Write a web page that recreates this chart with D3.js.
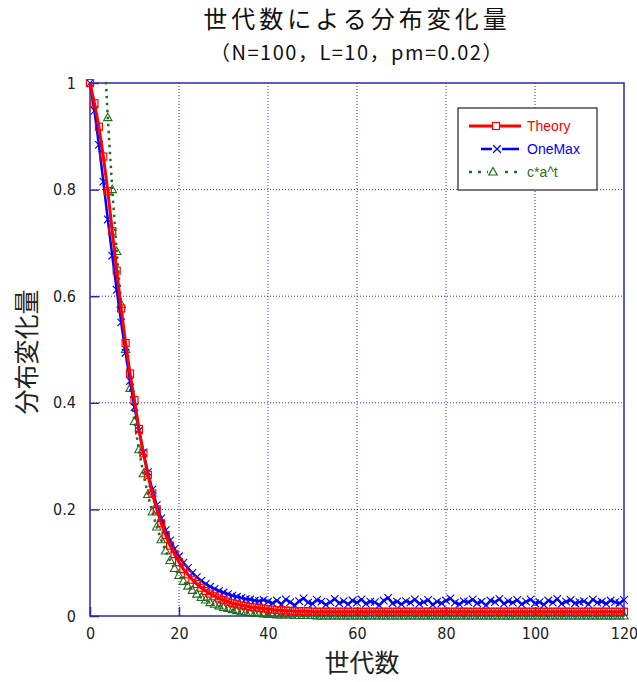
<!DOCTYPE html>
<html>
<head>
<meta charset="utf-8">
<script src="https://cdn.jsdelivr.net/npm/d3@7"></script>
<style>
  body { margin: 0; background: #fff; }
  svg { display: block; }
</style>
</head>
<body>
<script>
const width = 637
const height = 682

// generations 0..120
const generations = d3.range(0, 121)

// Theory curve, one value per generation
const theory = [
  1.000, 0.962, 0.918, 0.862, 0.797, 0.722, 0.648, 0.577, 0.512, 0.455, 0.405,
  0.351, 0.305, 0.265, 0.230, 0.200, 0.174, 0.152, 0.132, 0.116, 0.101,
  0.088, 0.078, 0.068, 0.060, 0.053, 0.047, 0.042, 0.037, 0.033, 0.030,
  0.027, 0.024, 0.022, 0.020, 0.019, 0.017, 0.016, 0.015, 0.014, 0.013,
  0.012, 0.011, 0.011, 0.010, 0.010, 0.009, 0.009, 0.009, 0.009, 0.008,
  0.008, 0.008, 0.008, 0.008, 0.008, 0.008, 0.008, 0.008, 0.008, 0.008,
  0.008, 0.008, 0.008, 0.008, 0.008, 0.008, 0.008, 0.008, 0.008, 0.008,
  0.008, 0.008, 0.008, 0.008, 0.008, 0.008, 0.008, 0.008, 0.008, 0.008,
  0.008, 0.008, 0.008, 0.008, 0.008, 0.008, 0.008, 0.008, 0.008, 0.008,
  0.008, 0.008, 0.008, 0.008, 0.008, 0.008, 0.008, 0.008, 0.008, 0.008,
  0.008, 0.008, 0.008, 0.008, 0.008, 0.008, 0.008, 0.008, 0.008, 0.008,
  0.008, 0.008, 0.008, 0.008, 0.008, 0.008, 0.008, 0.008, 0.008, 0.008
]

// OneMax experiment
const oneMax = [
  1.000, 0.948, 0.884, 0.815, 0.744, 0.676, 0.612, 0.551, 0.494, 0.441, 0.392,
  0.348, 0.307, 0.270, 0.237, 0.208, 0.183, 0.161, 0.142, 0.126, 0.112,
  0.100, 0.090, 0.081, 0.073, 0.066, 0.060, 0.055, 0.051, 0.047, 0.044,
  0.041, 0.038, 0.036, 0.034, 0.032, 0.031, 0.029, 0.028, 0.030, 0.027,
  0.024, 0.029, 0.022, 0.031, 0.026, 0.020, 0.028, 0.033, 0.025, 0.023,
  0.030, 0.027, 0.021, 0.026, 0.032, 0.024, 0.028, 0.022, 0.029, 0.025,
  0.031, 0.023, 0.027, 0.026, 0.020, 0.029, 0.034, 0.024, 0.027, 0.022,
  0.028, 0.025, 0.031, 0.023, 0.026, 0.030, 0.021, 0.027, 0.024, 0.029,
  0.033, 0.025, 0.022, 0.028, 0.026, 0.031, 0.024, 0.027, 0.020, 0.029,
  0.026, 0.032, 0.023, 0.028, 0.025, 0.030, 0.022, 0.027, 0.031, 0.024,
  0.026, 0.021, 0.029, 0.025, 0.032, 0.023, 0.027, 0.030, 0.024, 0.026,
  0.028, 0.022, 0.031, 0.025, 0.027, 0.023, 0.029, 0.026, 0.024, 0.030
]

// fitted c*a^t (starts at generation 3)
const fitCurve = [
  null, null, null, 1.094, 0.935, 0.800, 0.684, 0.585, 0.500, 0.427, 0.365,
  0.312, 0.267, 0.228, 0.195, 0.167, 0.143, 0.122, 0.104, 0.089, 0.076,
  0.065, 0.056, 0.048, 0.041, 0.035, 0.030, 0.025, 0.022, 0.019, 0.016,
  0.014, 0.012, 0.010, 0.008, 0.007, 0.006, 0.005, 0.005, 0.004, 0.003,
  0.003, 0.002, 0.002, 0.002, 0.002, 0.001, 0.001, 0.001, 0.001, 0.001,
  0, 0, 0, 0, 0, 0, 0, 0, 0, 0,
  0, 0, 0, 0, 0, 0, 0, 0, 0, 0,
  0, 0, 0, 0, 0, 0, 0, 0, 0, 0,
  0, 0, 0, 0, 0, 0, 0, 0, 0, 0,
  0, 0, 0, 0, 0, 0, 0, 0, 0, 0,
  0, 0, 0, 0, 0, 0, 0, 0, 0, 0,
  0, 0, 0, 0, 0, 0, 0, 0, 0, 0
]

const xTicks = [0, 20, 40, 60, 80, 100, 120]
const yTicks = [0, 0.2, 0.4, 0.6, 0.8, 1]

const titleLines = ["世代数による分布変化量", "（N=100，L=10，pm=0.02）"]
const xLabel = "世代数"
const yLabel = "分布変化量"
const legendNames = ["Theory", "OneMax", "c*a^t"]

const frameColor = "#2a2aa8"
const gridColor = "#3333cc"
const red = "#ff0000", blue = "#0000ff", green = "#1f6e1f"

const plot = {left: 90, right: 624, top: 83, bottom: 616}

const x = d3.scaleLinear().domain([0, 120]).range([plot.left, plot.right])
const y = d3.scaleLinear().domain([0, 1]).range([plot.bottom, plot.top])

const svg = d3.select("body").append("svg")
    .attr("width", width)
    .attr("height", height)

svg.append("defs").append("clipPath").attr("id", "clip")
  .append("rect")
    .attr("x", plot.left - 6).attr("y", plot.top - 4)
    .attr("width", plot.right - plot.left + 12)
    .attr("height", plot.bottom - plot.top + 14)

// title, two separate lines
const titleStyle = [
  {y: 28, size: 24, spacing: 4},
  {y: 60, size: 20, spacing: 1.5}
]
svg.selectAll(".title").data(titleLines).enter().append("text")
    .attr("class", "title")
    .attr("x", 357)
    .attr("y", (d, i) => titleStyle[i].y)
    .attr("text-anchor", "middle")
    .attr("font-family", "'Noto Sans CJK JP', sans-serif")
    .attr("font-size", (d, i) => titleStyle[i].size)
    .attr("letter-spacing", (d, i) => titleStyle[i].spacing)
    .attr("fill", "#111")
    .text(d => d)

// grid
const grid = svg.append("g")
    .attr("stroke", gridColor)
    .attr("stroke-width", 1)
    .attr("stroke-dasharray", "1,2")
grid.selectAll(".vg").data(xTicks.slice(1, -1)).enter().append("line")
    .attr("x1", d => x(d)).attr("x2", d => x(d))
    .attr("y1", plot.top).attr("y2", plot.bottom)
grid.selectAll(".hg").data(yTicks.slice(1, -1)).enter().append("line")
    .attr("y1", d => y(d)).attr("y2", d => y(d))
    .attr("x1", plot.left).attr("x2", plot.right)

// frame
svg.append("rect")
    .attr("x", plot.left).attr("y", plot.top)
    .attr("width", plot.right - plot.left)
    .attr("height", plot.bottom - plot.top)
    .attr("fill", "none")
    .attr("stroke", frameColor)
    .attr("stroke-width", 1.5)

// axes, ticks pointing inward
const tickFont = "'Liberation Sans Narrow', 'DejaVu Sans Condensed', sans-serif"
const xAxis = svg.append("g")
    .attr("transform", `translate(0,${plot.bottom})`)
    .call(d3.axisBottom(x).tickValues(xTicks).tickSize(-9).tickPadding(12).tickFormat(d3.format("d")))
const yAxis = svg.append("g")
    .attr("transform", `translate(${plot.left},0)`)
    .call(d3.axisLeft(y).tickValues(yTicks).tickSize(-9).tickPadding(14).tickFormat(d => d))
;[xAxis, yAxis].forEach(a => {
  a.select(".domain").remove()
  a.selectAll(".tick line").attr("stroke", frameColor).attr("stroke-width", 1.5)
  a.selectAll(".tick text")
    .attr("font-family", tickFont)
    .attr("font-size", 16)
    .attr("fill", "#222")
})

// axis labels
svg.append("text")
    .attr("x", 362).attr("y", 672)
    .attr("text-anchor", "middle")
    .attr("font-family", "'Noto Sans CJK JP', sans-serif")
    .attr("font-size", 25)
    .attr("fill", "#222")
    .text(xLabel)
svg.append("text")
    .attr("transform", "translate(36,352) rotate(-90)")
    .attr("text-anchor", "middle")
    .attr("font-family", "'Noto Sans CJK JP', sans-serif")
    .attr("font-size", 25)
    .attr("fill", "#222")
    .text(yLabel)

// series
const body = svg.append("g").attr("clip-path", "url(#clip)")

const toPoints = vals => generations.map((t, i) => ({t, v: vals[i]})).filter(d => d.v != null)
const line = d3.line().x(d => x(d.t)).y(d => y(d.v))

const triPath = "M0,-4.5L4.2,3L-4.2,3Z"
const crossPath = "M-3.8,-3.8L3.8,3.8M-3.8,3.8L3.8,-3.8"

// c*a^t
const gPts = toPoints(fitCurve)
body.append("path").datum(gPts)
    .attr("d", line).attr("fill", "none")
    .attr("stroke", green).attr("stroke-width", 2.5)
    .attr("stroke-dasharray", "2.5,4.5")
body.selectAll(".tri").data(gPts).enter().append("path")
    .attr("d", triPath)
    .attr("transform", d => `translate(${x(d.t)},${y(d.v)})`)
    .attr("fill", "none").attr("stroke", green).attr("stroke-width", 1.1)

// OneMax
const bPts = toPoints(oneMax)
body.append("path").datum(bPts)
    .attr("d", line).attr("fill", "none")
    .attr("stroke", blue).attr("stroke-width", 2.5)
body.selectAll(".crs").data(bPts).enter().append("path")
    .attr("d", crossPath)
    .attr("transform", d => `translate(${x(d.t)},${y(d.v)})`)
    .attr("fill", "none").attr("stroke", blue).attr("stroke-width", 1.1)

// Theory
const rPts = toPoints(theory)
body.append("path").datum(rPts)
    .attr("d", line).attr("fill", "none")
    .attr("stroke", red).attr("stroke-width", 3)
body.selectAll(".sq").data(rPts).enter().append("rect")
    .attr("x", d => x(d.t) - 3.5).attr("y", d => y(d.v) - 3.5)
    .attr("width", 7).attr("height", 7)
    .attr("fill", "none").attr("stroke", red).attr("stroke-width", 1.2)

// legend
const legend = svg.append("g").attr("transform", "translate(458,108)")
legend.append("rect")
    .attr("width", 139).attr("height", 82)
    .attr("fill", "#fff").attr("stroke", "#222").attr("stroke-width", 1.2)

const legendColors = [red, blue, green]
const rows = legend.selectAll(".row").data(legendNames).enter().append("g")
    .attr("transform", (d, i) => `translate(0,${18 + i * 23})`)

rows.append("line")
    .attr("x1", (d, i) => i === 1 ? 23 : 11)
    .attr("x2", (d, i) => i === 1 ? 61 : 63)
    .attr("stroke", (d, i) => legendColors[i])
    .attr("stroke-width", (d, i) => i === 0 ? 3 : 2.5)
    .attr("stroke-dasharray", (d, i) => i === 2 ? "3,6" : null)

rows.each(function(d, i) {
  const g = d3.select(this)
  if (i === 0) {
    g.append("rect").attr("x", 34.5).attr("y", -3.5).attr("width", 7).attr("height", 7)
      .attr("fill", "#fff").attr("stroke", red).attr("stroke-width", 1.2)
  } else if (i === 1) {
    g.append("rect").attr("x", 34).attr("y", -5).attr("width", 10).attr("height", 10).attr("fill", "#fff")
    g.append("path").attr("d", crossPath).attr("transform", "translate(39,0)")
      .attr("fill", "none").attr("stroke", blue).attr("stroke-width", 1.3)
  } else {
    g.append("rect").attr("x", 30).attr("y", -5).attr("width", 11).attr("height", 10).attr("fill", "#fff")
    g.append("path").attr("d", triPath).attr("transform", "translate(35,0)")
      .attr("fill", "none").attr("stroke", green).attr("stroke-width", 1.2)
  }
})

rows.append("text")
    .attr("x", 69).attr("y", 5)
    .attr("font-family", "'Liberation Sans', Arial, sans-serif")
    .attr("font-size", 14)
    .attr("fill", (d, i) => legendColors[i])
    .text(d => d)
</script>
</body>
</html>
